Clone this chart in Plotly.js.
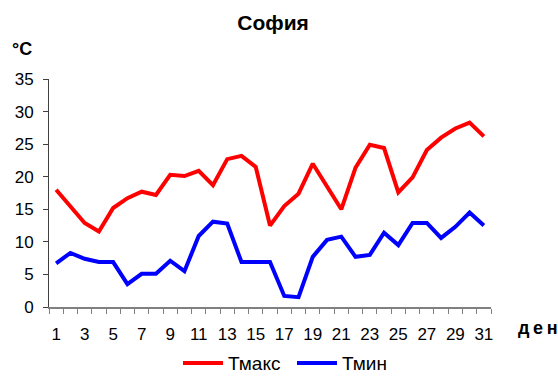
<!DOCTYPE html>
<html>
<head>
<meta charset="utf-8">
<script src="https://cdn.plot.ly/plotly-3.0.1.min.js"></script>
<style>
  html, body { margin: 0; padding: 0; background: #fff; }
  #chart { width: 558px; height: 376px; }
</style>
</head>
<body>
<div id="chart"></div>
<script>
// Daily temperatures for Sofia over one month (°C)
const days = [1, 2, 3, 4, 5, 6, 7, 8, 9, 10, 11, 12, 13, 14, 15, 16,
              17, 18, 19, 20, 21, 22, 23, 24, 25, 26, 27, 28, 29, 30, 31];
const tMax = [18.0, 15.4, 12.9, 11.6, 15.2, 16.7, 17.7, 17.2, 20.3, 20.1, 20.9, 18.7,
              22.7, 23.2, 21.5, 12.5, 15.5, 17.4, 22.0, 18.5, 15.0, 21.4, 24.9, 24.4,
              17.6, 19.9, 24.1, 26.0, 27.4, 28.3, 26.2];
const tMin = [6.7, 8.3, 7.4, 6.9, 6.9, 3.5, 5.1, 5.1, 7.1, 5.5, 10.9, 13.1,
              12.8, 6.9, 6.9, 6.9, 1.7, 1.5, 7.7, 10.3, 10.8, 7.7, 8.0, 11.4,
              9.5, 12.9, 12.9, 10.6, 12.3, 14.5, 12.5];
const yTicks = [0, 5, 10, 15, 20, 25, 30, 35];
const labelDays = days.filter(d => d % 2 === 1);

const font = "'Liberation Sans', Arial, sans-serif";

const traces = [
  { x: days, y: tMax, name: 'Тмакс', type: 'scatter', mode: 'lines',
    line: { color: '#ff0000', width: 4 } },
  { x: days, y: tMin, name: 'Тмин', type: 'scatter', mode: 'lines',
    line: { color: '#0000ff', width: 4 } }
];

const layout = {
  width: 558, height: 376,
  margin: { l: 49, r: 67, t: 79, b: 69 },
  paper_bgcolor: '#fff', plot_bgcolor: '#fff',
  font: { family: font, size: 17, color: '#000' },
  title: { text: '<b>София</b>', x: 0.507, xref: 'paper', y: 0.939, yref: 'container',
           xanchor: 'center', yanchor: 'middle',
           font: { family: font, size: 21, color: '#000' } },
  showlegend: true,
  legend: { orientation: 'h', x: 0.319, xanchor: 'left', xref: 'container',
            y: 0.034, yref: 'container', yanchor: 'middle',
            itemwidth: 40, entrywidth: 59, entrywidthmode: 'pixels',
            font: { family: font, size: 19 } },
  xaxis: {
    range: [0.5, 31.5], showgrid: false, zeroline: false,
    showline: true, linecolor: '#808080', linewidth: 2,
    tickmode: 'array', tickvals: labelDays, ticktext: labelDays.map(String),
    ticks: '', ticklabelstandoff: 11,
    minor: { tickmode: 'array', tickvals: days.map(d => d - 0.5).concat([31.5]),
             ticks: 'outside', ticklen: 5, tickcolor: '#808080', tickwidth: 1 },
    tickfont: { family: font, size: 17 }
  },
  yaxis: {
    range: [0, 35], showgrid: false, zeroline: false,
    showline: true, linecolor: '#404040', linewidth: 1,
    tickmode: 'array', tickvals: yTicks,
    ticks: 'outside', ticklen: 5, tickcolor: '#404040',
    ticklabelstandoff: 6,
    tickfont: { family: font, size: 17 }
  },
  annotations: [
    { text: '<b>°C</b>', xref: 'paper', yref: 'paper', x: -0.061, y: 1.132,
      xanchor: 'center', yanchor: 'middle', showarrow: false,
      font: { family: font, size: 18, color: '#000' } },
    { text: '<b>д\u2009е\u2009н</b>', xref: 'paper', yref: 'paper', x: 1.057, y: -0.09,
      xanchor: 'left', yanchor: 'middle', showarrow: false,
      font: { family: font, size: 18, color: '#000' } }
  ]
};

Plotly.newPlot('chart', traces, layout, { displayModeBar: false, staticPlot: true });
</script>
</body>
</html>
